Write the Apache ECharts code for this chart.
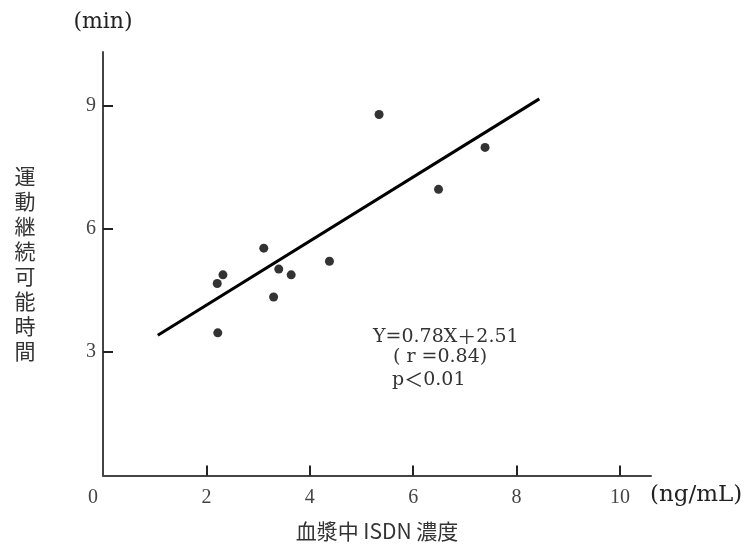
<!DOCTYPE html>
<html>
<head>
<meta charset="utf-8">
<script src="https://cdn.jsdelivr.net/npm/echarts@6.0.0/dist/echarts.min.js"></script>
<style>
html,body{margin:0;padding:0;background:#fff;}
#chart{width:753px;height:545px;}
</style>
</head>
<body>
<div id="chart"></div>
<script>
// Data
var concentration = [5.34, 7.39, 6.49, 3.11, 4.38, 3.40, 3.64, 2.32, 2.21, 3.30, 2.22];
var exerciseTime  = [8.78, 7.98, 6.96, 5.53, 5.21, 5.02, 4.88, 4.88, 4.67, 4.34, 3.47];
var regressionX = [1.06, 8.44];
var regressionY = [3.41, 9.16];
var xTicks = [0, 2, 4, 6, 8, 10];
var yTicks = [3, 6, 9];
var yAxisTitle = '運動継続可能時間';
var xAxisTitle = '血漿中 ISDN 濃度';
var yUnit = '(min)';
var xUnit = '(ng/mL)';
var annotation = ['Y=0.78X＋2.51', '( r =0.84)', 'p＜0.01'];

var points = concentration.map(function (x, i) { return [x, exerciseTime[i]]; });
var lineData = regressionX.map(function (x, i) { return [x, regressionY[i]]; });

// full-width symbols drawn with a CJK font so they keep their full-width size
function richify(s) {
  return s.replace(/([＋＜])|([^＋＜]+)/g, function (m, fw, rest) {
    return fw ? '{w|' + fw + '}' : '{a|' + rest + '}';
  });
}

var chart = echarts.init(document.getElementById('chart'), null, {renderer: 'canvas'});
var serif = '"DejaVu Serif", serif';
var numFont = '"Liberation Serif", serif';
var cjk = '"Noto Sans CJK JP", sans-serif';
var annRich = {
  a: {fontFamily: serif, fontSize: 19, fill: '#333', color: '#333'},
  w: {fontFamily: cjk, fontSize: 19, fill: '#333', color: '#333'}
};

chart.setOption({
  backgroundColor: '#ffffff',
  animation: false,
  grid: {left: 103, right: 102, top: 52, bottom: 69.5, containLabel: false, outerBoundsMode: 'none'},
  xAxis: {
    type: 'value', min: 0, max: 10.6, interval: 2,
    splitLine: {show: false},
    axisLine: {show: true, lineStyle: {color: '#444', width: 2}},
    axisTick: {show: true, inside: true, length: 10, customValues: xTicks.slice(1), lineStyle: {color: '#222', width: 2}},
    axisLabel: {
      customValues: xTicks, margin: 12, color: '#444', fontFamily: numFont, fontSize: 20,
      formatter: function (v) { return v === 0 ? '{z|0}' : String(v); },
      rich: {z: {padding: [0, 20, 0, 0], fontFamily: numFont, fontSize: 20, color: '#444'}}
    }
  },
  yAxis: {
    type: 'value', min: 0, max: 10.3, interval: 3,
    splitLine: {show: false},
    axisLine: {show: true, lineStyle: {color: '#444', width: 2}},
    axisTick: {show: true, inside: true, length: 10, customValues: yTicks, lineStyle: {color: '#222', width: 2}},
    axisLabel: {customValues: yTicks, margin: 7, color: '#444', fontFamily: numFont, fontSize: 20}
  },
  series: [
    {
      type: 'line', data: lineData, symbol: 'none', silent: true,
      lineStyle: {color: '#000', width: 3}, z: 2
    },
    {
      type: 'scatter', data: points, symbol: 'circle', symbolSize: 9,
      itemStyle: {color: '#000'}, z: 3
    }
  ],
  graphic: [
    {type: 'text', x: 103, y: 22, style: {text: yUnit, font: '22px ' + serif, fill: '#222', align: 'center', verticalAlign: 'middle'}},
    {type: 'text', x: 650, y: 495, style: {text: xUnit, font: '23px ' + serif, fill: '#222', align: 'left', verticalAlign: 'middle'}},
    {type: 'text', x: 377, y: 531, style: {text: xAxisTitle, font: '21px ' + cjk, fill: '#333', align: 'center', verticalAlign: 'middle'}},
    {type: 'text', x: 25, y: 264, style: {text: yAxisTitle.split('').join('\n'), font: '21px ' + cjk, lineHeight: 25, fill: '#333', align: 'center', verticalAlign: 'middle'}},
    {type: 'text', x: 373, y: 337, style: {text: richify(annotation[0]), rich: annRich, align: 'left', verticalAlign: 'middle'}},
    {type: 'text', x: 393, y: 357, style: {text: richify(annotation[1]), rich: annRich, align: 'left', verticalAlign: 'middle'}},
    {type: 'text', x: 392, y: 380, style: {text: richify(annotation[2]), rich: annRich, align: 'left', verticalAlign: 'middle'}}
  ]
});
</script>
</body>
</html>
